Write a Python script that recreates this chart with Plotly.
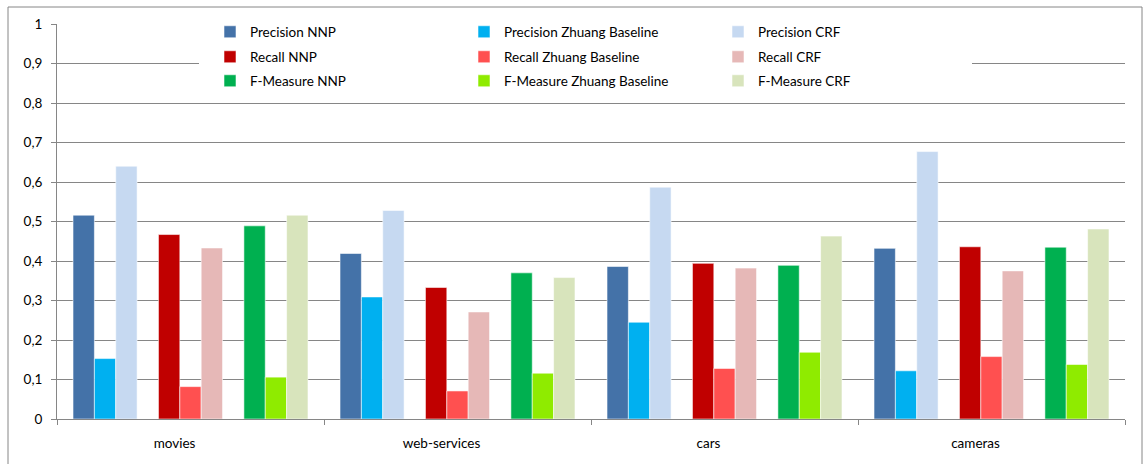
import plotly.graph_objects as go

# Datasets on the category axis
categories = ["movies", "web-services", "cars", "cameras"]

# Scores per dataset
precision_nnp = [0.516, 0.419, 0.386, 0.432]
precision_zhuang = [0.153, 0.309, 0.245, 0.122]
precision_crf = [0.640, 0.528, 0.587, 0.677]
recall_nnp = [0.467, 0.333, 0.394, 0.436]
recall_zhuang = [0.082, 0.071, 0.128, 0.158]
recall_crf = [0.433, 0.271, 0.382, 0.375]
fmeasure_nnp = [0.489, 0.370, 0.389, 0.435]
fmeasure_zhuang = [0.106, 0.116, 0.169, 0.138]
fmeasure_crf = [0.516, 0.358, 0.463, 0.481]

y_ticks = [0, 0.1, 0.2, 0.3, 0.4, 0.5, 0.6, 0.7, 0.8, 0.9, 1]

# (name, values, colour, slot within group, legend row)
series = [
    ("Precision NNP", precision_nnp, "#4472A8", 0, "legend"),
    ("Precision Zhuang Baseline", precision_zhuang, "#00B0F0", 1, "legend"),
    ("Precision CRF", precision_crf, "#C6D9F1", 2, "legend"),
    ("Recall NNP", recall_nnp, "#C00000", 4, "legend2"),
    ("Recall Zhuang Baseline", recall_zhuang, "#FF5050", 5, "legend2"),
    ("Recall CRF", recall_crf, "#E6B8B7", 6, "legend2"),
    ("F-Measure NNP", fmeasure_nnp, "#00B050", 8, "legend3"),
    ("F-Measure Zhuang Baseline", fmeasure_zhuang, "#8FEB00", 9, "legend3"),
    ("F-Measure CRF", fmeasure_crf, "#D8E4BC", 10, "legend3"),
]

N_SLOTS = 11          # 9 bars + 2 spacer slots per category
SLOT_W = 0.08         # bar width in category units
FONT = "Lato"
GRID = "#868686"

W, H = 1147, 464
L, R, T, B = 57, 22, 24, 45
PW, PH = W - L - R, H - T - B


def px_x(px):
    return (px - L) / PW


def px_y(py):
    return (H - B - py) / PH


fig = go.Figure()
for name, vals, color, slot, leg in series:
    xs = [i + 0.5 + SLOT_W * (slot - (N_SLOTS - 1) / 2) for i in range(len(categories))]
    fig.add_trace(go.Bar(
        x=xs, y=vals, name=name, width=SLOT_W,
        marker=dict(color=color, line=dict(color="rgba(255,255,255,0.55)", width=1)),
        legend=leg,
        hovertemplate=name + ": %{y}<extra></extra>",
    ))

legend_common = dict(
    orientation="h", entrywidth=209, entrywidthmode="pixels",
    bgcolor="white", font=dict(family=FONT, size=13.5, color="#000"),
    x=px_x(210), xanchor="left", yanchor="middle",
    itemclick=False, itemdoubleclick=False, traceorder="normal",
)

fig.update_layout(
    width=W, height=H,
    margin=dict(l=L, r=R, t=T, b=B, pad=0),
    plot_bgcolor="white", paper_bgcolor="white",
    barmode="overlay",
    separators=", ",
    font=dict(family=FONT, size=13.5, color="#000"),
    legend=dict(legend_common, y=px_y(32)),
    legend2=dict(legend_common, y=px_y(57)),
    legend3=dict(legend_common, y=px_y(81)),
    xaxis=dict(
        range=[0, len(categories)],
        tickvals=[i + 0.5 for i in range(len(categories))],
        ticktext=categories, ticks="", ticklabelshift=-16, ticklabelstandoff=12,
        showgrid=False, zeroline=False,
        showline=True, linecolor=GRID, linewidth=1,
        minor=dict(tickvals=list(range(len(categories) + 1)), ticks="outside",
                   ticklen=5, tickcolor=GRID, showgrid=False),
        fixedrange=True,
    ),
    yaxis=dict(
        range=[0, 1], tickvals=y_ticks, showgrid=True, gridcolor=GRID, gridwidth=1,
        zeroline=False, showline=True, linecolor=GRID, linewidth=1,
        ticks="outside", ticklen=5, tickcolor=GRID, ticklabelstandoff=6,
        fixedrange=True,
    ),
    shapes=[
        # outer chart frame
        dict(
            type="rect", xref="paper", yref="paper",
            x0=px_x(8), x1=px_x(1142), y0=px_y(480), y1=px_y(7),
            line=dict(color=GRID, width=1), fillcolor="rgba(0,0,0,0)", layer="below",
        ),
        # white backing of the legend block
        dict(
            type="rect", xref="paper", yref="paper",
            x0=px_x(199), x1=px_x(960), y0=px_y(95), y1=px_y(14),
            line=dict(width=0), fillcolor="white", layer="above",
        ),
    ],
)

fig.write_html("out.html", config={"displayModeBar": False})
